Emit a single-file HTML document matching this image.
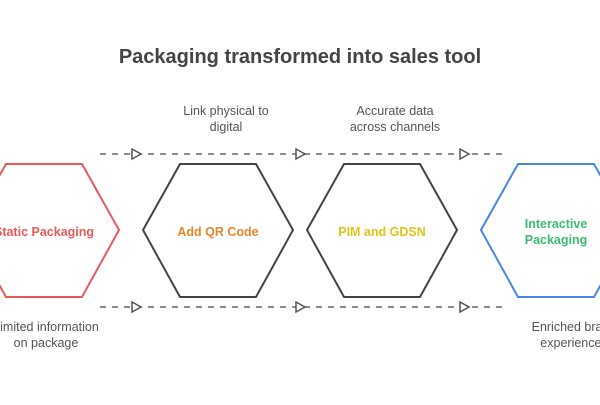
<!DOCTYPE html>
<html><head><meta charset="utf-8"><style>
body{margin:0;background:#fff;width:600px;height:400px;overflow:hidden}
svg text{font-family:"Liberation Sans",sans-serif}
</style></head><body>
<svg width="600" height="400" viewBox="0 0 600 400">
<text x="300" y="63" text-anchor="middle" font-size="20" font-weight="bold" fill="#444">Packaging transformed into sales tool</text>
<g stroke="#666" stroke-width="1.5" stroke-dasharray="6,6" fill="none">
<line x1="100" y1="154" x2="502" y2="154"/>
<line x1="100" y1="307" x2="502" y2="307"/>
</g>
<g fill="#fff" stroke="#555" stroke-width="1.5">
<polygon points="132,149 141,154 132,159"/>
<polygon points="296,149 305,154 296,159"/>
<polygon points="460,149 469,154 460,159"/>
<polygon points="132,302 141,307 132,312"/>
<polygon points="296,302 305,307 296,312"/>
<polygon points="460,302 469,307 460,312"/>
</g>
<g fill="none" stroke-width="2">
<polygon stroke="#e85a5a" points="-31,230 6,164 82,164 119,230 82,297 6,297"/>
<polygon stroke="#444" points="143,230 180,164 256,164 293,230 256,297 180,297"/>
<polygon stroke="#444" points="307,230 344,164 420,164 457,230 420,297 344,297"/>
<polygon stroke="#4a86e8" points="481,230 518,164 594,164 631,230 594,297 518,297"/>
</g>
<g font-size="12.5" font-weight="bold" text-anchor="middle">
<text x="44" y="236" fill="#e85a5a">Static Packaging</text>
<text x="218" y="236" fill="#e8862a">Add QR Code</text>
<text x="382" y="236" fill="#e0c51a">PIM and GDSN</text>
<text x="556" y="228" fill="#3dbb75">Interactive</text>
<text x="556" y="244" fill="#3dbb75">Packaging</text>
</g>
<g font-size="12.5" fill="#555" text-anchor="middle">
<text x="226" y="115">Link physical to</text>
<text x="226" y="131">digital</text>
<text x="395" y="115">Accurate data</text>
<text x="395" y="131">across channels</text>
<text x="46" y="331">Limited information</text>
<text x="46" y="347">on package</text>
<text x="574" y="331">Enriched brand</text>
<text x="574" y="347">experiences</text>
</g>
</svg>
</body></html>
